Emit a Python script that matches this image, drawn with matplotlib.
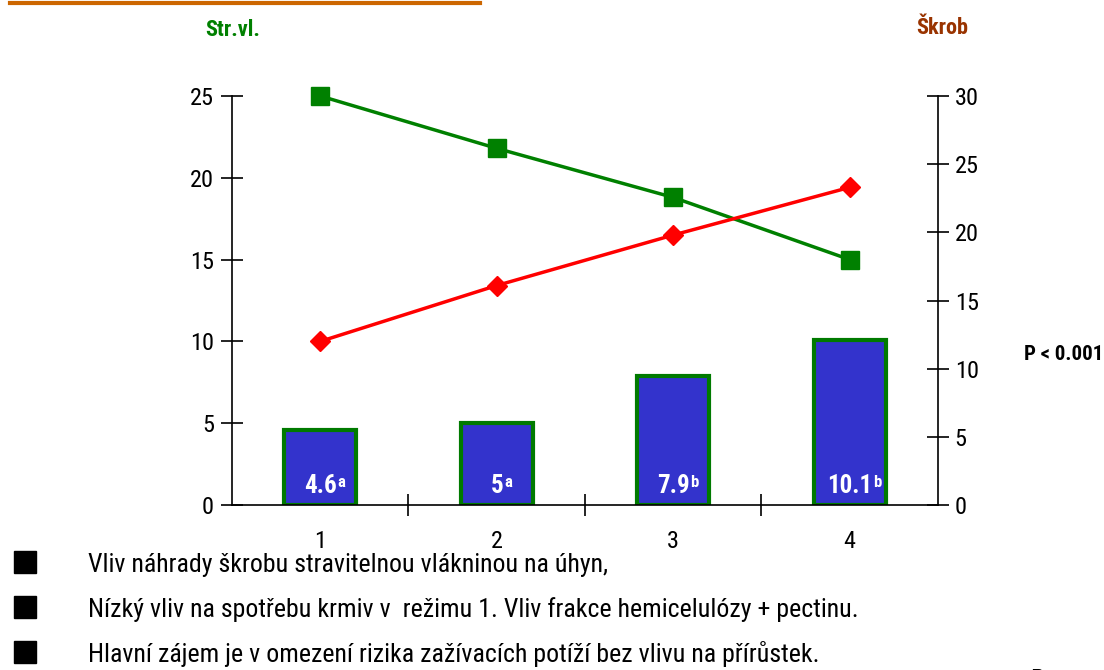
import os
import matplotlib
matplotlib.use('Agg')
import matplotlib.pyplot as plt
from matplotlib import font_manager as fm
from matplotlib.patches import Rectangle

# ---------------- data ----------------
categories = [1, 2, 3, 4]
bar_values = [4.6, 5.0, 7.9, 10.1]
bar_labels = ['4.6', '5', '7.9', '10.1']
bar_sups = ['a', 'a', 'b', 'b']
fiber = [25.0, 21.8, 18.8, 15.0]      # Str.vl. (left axis)
starch = [12.0, 16.1, 19.8, 23.3]     # Škrob (right axis)
left_ticks = [0, 5, 10, 15, 20, 25]
right_ticks = [0, 5, 10, 15, 20, 25, 30]
notes = [
    "Vliv náhrady škrobu stravitelnou vlákninou na úhyn,",
    "Nízký vliv na spotřebu krmiv v  režimu 1. Vliv frakce hemicelulózy + pectinu.",
    "Hlavní zájem je v omezení rizika zažívacích potíží bez vlivu na přírůstek.",
]

# ---------------- fonts (prefer a narrow sans) ----------------
_files = [f.fname for f in fm.fontManager.ttflist]


def find_font(patterns):
    for p in patterns:
        for f in _files:
            if os.path.basename(f).lower() == p.lower():
                return f
    return None


REG = find_font(['LiberationSansNarrow-Regular.ttf', 'RobotoCondensed-Regular.ttf',
                 'OpenSans_Condensed-Regular.ttf', 'OpenSansCondensed-Regular.ttf',
                 'DejaVuSansCondensed.ttf'])
BOLD = find_font(['LiberationSansNarrow-Bold.ttf', 'RobotoCondensed-Bold.ttf',
                  'OpenSans_Condensed-Bold.ttf', 'OpenSansCondensed-Bold.ttf',
                  'DejaVuSansCondensed-Bold.ttf'])


def fp(size, bold=False):
    f = BOLD if bold else REG
    if f is None:
        return fm.FontProperties(family='Liberation Sans', size=size,
                                 weight='bold' if bold else 'normal')
    return fm.FontProperties(fname=f, size=size)


W, H = 1104, 670
fig = plt.figure(figsize=(W / 100, H / 100), dpi=100)
fig.patch.set_facecolor('white')


def fx(x):
    return x / W


def fy(y):
    return 1 - y / H


ax = fig.add_axes([fx(232), fy(505), (938 - 232) / W, (505 - 96) / H])
ax.bar(categories, bar_values, width=0.41, color='#3333CC',
       edgecolor='#007a00', linewidth=3, zorder=2)
ax.plot(categories, fiber, color='#008000', lw=2.5, marker='s', ms=13,
        zorder=4, clip_on=False)
ax.set_xlim(0.5, 4.5)
ax.set_ylim(0, 25)
ax.set_yticks(left_ticks)
ax.set_xticks([1.5, 2.5, 3.5])
ax.set_xticklabels([])
ax.set_xticks(categories, minor=True)
ax.set_xticklabels([str(c) for c in categories], minor=True)
ax.tick_params(axis='x', which='major', direction='inout', length=16, width=1.2)
ax.tick_params(axis='x', which='minor', length=0, pad=18)
ax.tick_params(axis='y', direction='inout', length=16, width=1.2, pad=5)
for s in ['top', 'right']:
    ax.spines[s].set_visible(False)
for s in ['left', 'bottom']:
    ax.spines[s].set_linewidth(1.2)
for lbl in ax.get_yticklabels() + ax.get_xticklabels(minor=True):
    lbl.set_fontproperties(fp(17.5))

ax2 = ax.twinx()
ax2.plot(categories, starch, color='#ff0000', lw=2.5, marker='D', ms=10,
         zorder=4, clip_on=False)
ax2.set_ylim(0, 30)
ax2.set_yticks(right_ticks)
ax2.tick_params(axis='y', direction='inout', length=16, width=1.2, pad=4)
for s in ['top', 'left', 'bottom']:
    ax2.spines[s].set_visible(False)
ax2.spines['right'].set_linewidth(1.2)
for lbl in ax2.get_yticklabels():
    lbl.set_fontproperties(fp(17.5))

# bar labels with superscripts
fig.canvas.draw()
renderer = fig.canvas.get_renderer()
for c, lab, sup in zip(categories, bar_labels, bar_sups):
    t = fig.text(0, 0, lab, fontproperties=fp(18, True))
    t_sup = fig.text(0, 0, sup, fontproperties=fp(12, True))
    w_main = t.get_window_extent(renderer).width
    w_sup = t_sup.get_window_extent(renderer).width
    t.remove()
    t_sup.remove()
    xc_pix = ax.transData.transform((c, 0))[0] + 4
    x_left = xc_pix - (w_main + w_sup) / 2
    fig.text(x_left / W, (H - 493) / H, lab, color='white',
             fontproperties=fp(18, True), ha='left', va='baseline', zorder=6)
    fig.text((x_left + w_main + 1) / W, (H - 487) / H, sup, color='white',
             fontproperties=fp(12, True), ha='left', va='baseline', zorder=6)

# titles / annotations
fig.text(fx(205), fy(36), 'Str.vl.', color='#008000', fontproperties=fp(16, True),
         ha='left', va='baseline')
fig.text(fx(916), fy(34), 'Škrob', color='#993300', fontproperties=fp(16, True),
         ha='left', va='baseline')
fig.text(fx(1103), fy(360), 'P < 0.001', color='black', fontproperties=fp(15, True),
         ha='right', va='baseline')

# top orange rule
fig.add_artist(plt.Line2D([fx(10), fx(480)], [fy(3), fy(3)], color='#cc6600',
                          lw=3, transform=fig.transFigure))

# bullet notes
base_ys = [573, 618, 663]
for y, note in zip(base_ys, notes):
    fig.add_artist(Rectangle((fx(14), fy(y)), 22 / W, 22 / H,
                             transform=fig.transFigure, color='black'))
    fig.text(fx(88), fy(y - 1), note, fontproperties=fp(18.6), color='black',
             ha='left', va='baseline')

# partially visible text at the bottom-right edge, as in the reference
fig.text(fx(1030), fy(688), 'P', fontproperties=fp(18), color='black',
         ha='left', va='baseline')

fig.savefig('out.png', dpi=100)
